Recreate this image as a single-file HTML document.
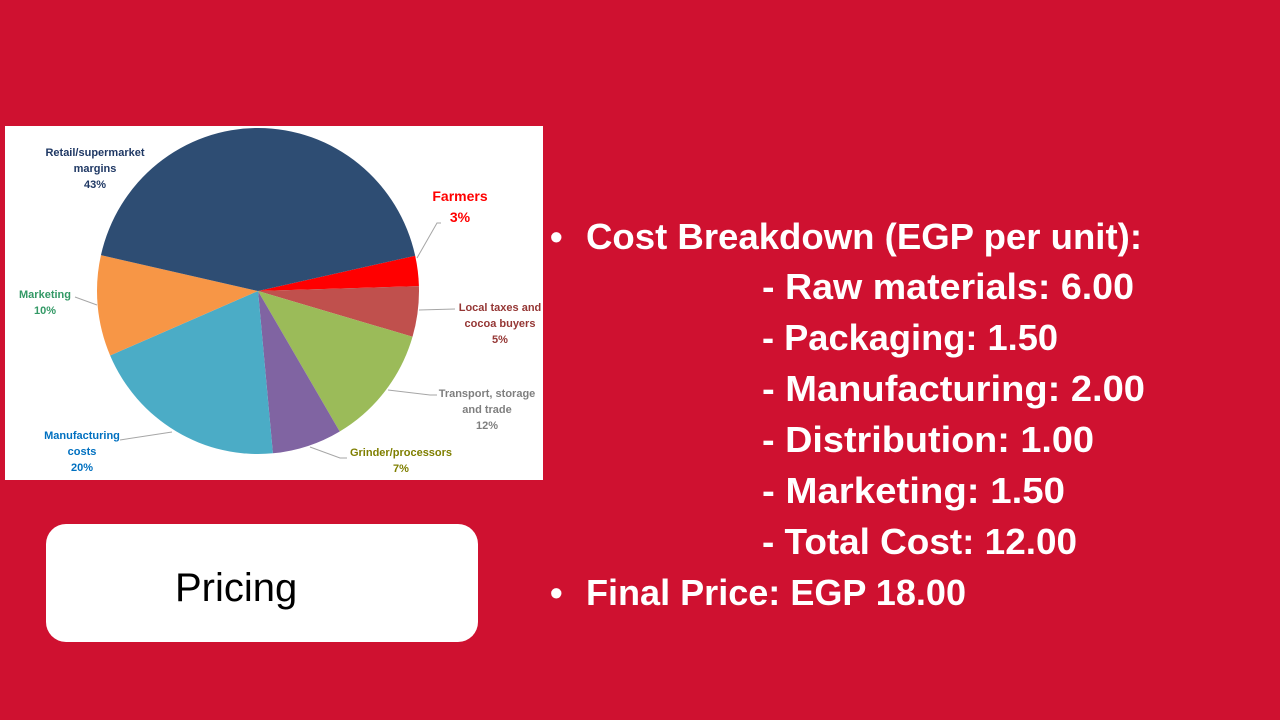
<!DOCTYPE html>
<html><head><meta charset="utf-8"><style>
body{margin:0;width:1280px;height:720px;background:#cf1130;overflow:hidden;position:relative;font-family:"Liberation Sans",sans-serif}
#chart{position:absolute;left:5px;top:126px;width:538px;height:354px;background:#fff}
#pricing{position:absolute;left:46px;top:524px;width:432px;height:118px;background:#fff;border-radius:20px;font-size:40px;color:#000}
#pricing span{position:absolute;left:129px;top:40px;line-height:48px}
</style></head><body>
<div id="chart">
<svg width="538" height="354" id="pie"></svg>
</div>
<div id="pricing"><span>Pricing</span></div>
<svg width="1280" height="720" style="position:absolute;left:0;top:0">
<g fill="#fff" font-weight="bold" font-size="36" font-family="Liberation Sans, sans-serif">
<text x="550" y="249">•</text>
<text x="586" y="249" textLength="556" lengthAdjust="spacingAndGlyphs">Cost Breakdown (EGP per unit):</text>
<text x="762" y="299" textLength="372" lengthAdjust="spacingAndGlyphs">- Raw materials: 6.00</text>
<text x="762" y="350" textLength="296" lengthAdjust="spacingAndGlyphs">- Packaging: 1.50</text>
<text x="762" y="401" textLength="383" lengthAdjust="spacingAndGlyphs">- Manufacturing: 2.00</text>
<text x="762" y="452" textLength="332" lengthAdjust="spacingAndGlyphs">- Distribution: 1.00</text>
<text x="762" y="503" textLength="303" lengthAdjust="spacingAndGlyphs">- Marketing: 1.50</text>
<text x="762" y="554" textLength="315" lengthAdjust="spacingAndGlyphs">- Total Cost: 12.00</text>
<text x="550" y="605">•</text>
<text x="586" y="605" textLength="380" lengthAdjust="spacingAndGlyphs">Final Price: EGP 18.00</text>
</g></svg>
<script>
const categories=["Farmers","Local taxes and cocoa buyers","Transport, storage and trade","Grinder/processors","Manufacturing costs","Marketing","Retail/supermarket margins"];
const values=[3,5,12,7,20,10,43];
const colors=["#ff0000","#c0504d","#9bbb59","#8064a2","#4bacc6","#f79646","#2e4d73"];
const NS="http://www.w3.org/2000/svg";
const svg=document.getElementById('pie');
const cx=253,cy=165,rx=161,ry=163,start=-12.5;
const total=values.reduce((a,b)=>a+b,0);
function pt(deg){const r=deg*Math.PI/180;return [cx+rx*Math.cos(r),cy+ry*Math.sin(r)];}
let a=start;
values.forEach((v,i)=>{
  const s=a,e=a+v/total*360;a=e;
  const p1=pt(s),p2=pt(e);
  const path=document.createElementNS(NS,'path');
  path.setAttribute('d',`M${cx},${cy} L${p1[0]},${p1[1]} A${rx},${ry} 0 ${e-s>180?1:0} 1 ${p2[0]},${p2[1]} Z`);
  path.setAttribute('fill',colors[i]);
  
  
  svg.appendChild(path);
});
const labels=[
 {lines:["Farmers","3%"],x:455,y:75,c:"#ff0000",fs:14,lh:21},
 {lines:["Local taxes and","cocoa buyers","5%"],x:495,y:185,c:"#953735",fs:11,lh:16},
 {lines:["Transport, storage","and trade","12%"],x:482,y:271,c:"#7f7f7f",fs:11,lh:16},
 {lines:["Grinder/processors","7%"],x:396,y:330,c:"#7f7f00",fs:11,lh:16},
 {lines:["Manufacturing","costs","20%"],x:77,y:313,c:"#0070c0",fs:11,lh:16},
 {lines:["Marketing","10%"],x:40,y:172,c:"#339966",fs:11,lh:16},
 {lines:["Retail/supermarket","margins","43%"],x:90,y:30,c:"#1f3864",fs:11,lh:16}
];
labels.forEach((l,i)=>{
  const t=document.createElementNS(NS,'text');
  t.setAttribute('text-anchor','middle');
  t.setAttribute('font-weight','bold');
  t.setAttribute('font-size',l.fs);
  t.setAttribute('fill',l.c);
  t.setAttribute('font-family','Liberation Sans, sans-serif');
  
  
  l.lines.forEach((ln,j)=>{const ts=document.createElementNS(NS,'tspan');ts.setAttribute('x',l.x);ts.setAttribute('y',l.y+j*l.lh);ts.textContent=ln;t.appendChild(ts);});
  svg.appendChild(t);
});
const leaders=[[[412,132],[432,97],[436,97]],[[414,184],[450,183]],[[383,264],[425,269],[432,269]],[[305,321],[335,332],[342,332]],[[167,306],[115,314]],[[92,179],[70,171]]];
leaders.forEach((pts,i)=>{
  const pl=document.createElementNS(NS,'polyline');
  pl.setAttribute('points',pts.map(p=>p.join(',')).join(' '));
  pl.setAttribute('fill','none');pl.setAttribute('stroke','#a6a6a6');pl.setAttribute('stroke-width','1');
  
  
  svg.appendChild(pl);
});
</script>
</body></html>
